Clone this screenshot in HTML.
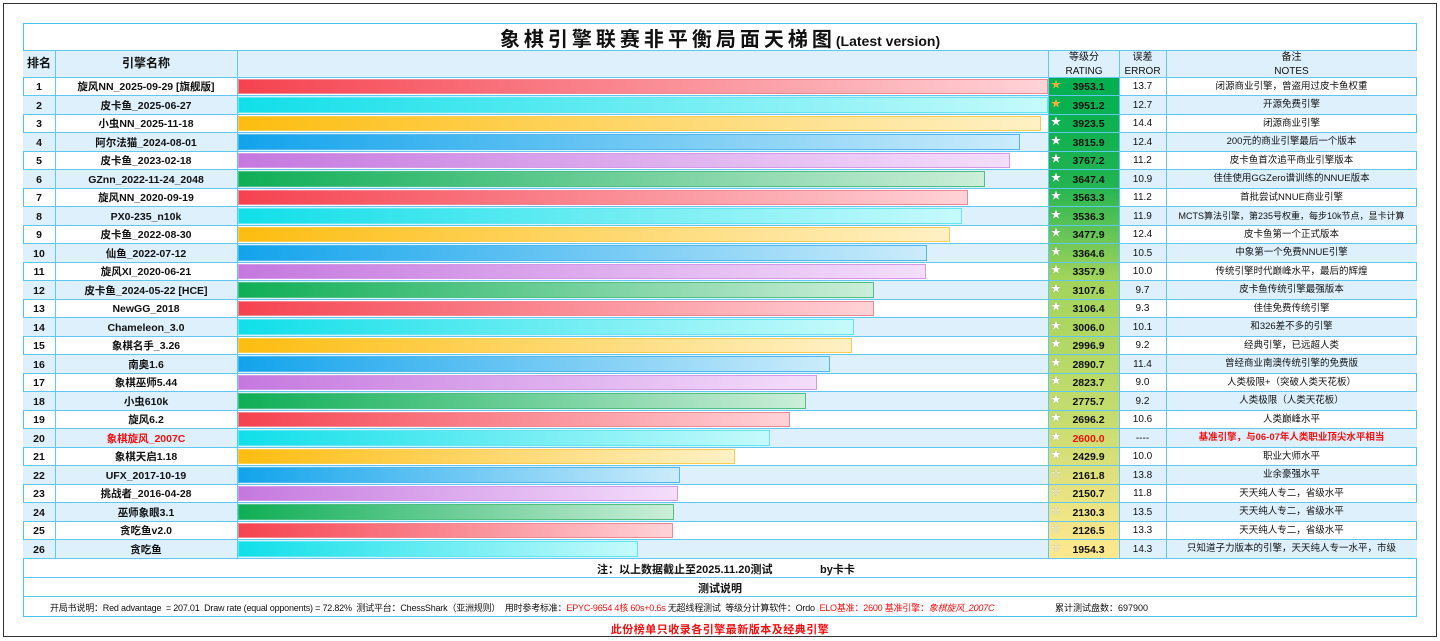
<!DOCTYPE html>
<html><head><meta charset="utf-8"><style>
*{margin:0;padding:0;box-sizing:border-box}
body{width:1440px;height:641px;background:#fff;position:relative;overflow:hidden;font-family:"Liberation Sans","Noto Sans CJK SC",sans-serif;color:#111}
.abs{position:absolute}
#outer{left:3px;top:3px;width:1434px;height:634px;border:1.5px solid #333}
.r{position:absolute;left:23px;width:1394px;height:18.5px}
.r.e{background:#ddf0fc}
.c{position:absolute;top:1px;height:18.5px;line-height:18.5px;text-align:center;white-space:nowrap;z-index:2}
.rk{left:0;width:32px;font-size:10.5px;font-weight:bold}
.nm{left:32px;width:182px;font-size:10.5px;font-weight:bold}
.rt{left:1026px;width:71px;font-size:10.5px;font-weight:bold;padding-left:8px}
.er{left:1096px;width:47px;font-size:10px;top:1px}
.nt{left:1143px;width:251px;font-size:9.5px;top:0.5px}
.st{position:absolute;left:2px;top:-1px;font-size:10px;color:#fff;text-shadow:0 0 1px #888}
.st.g{color:#f0b040;text-shadow:none}
.b{position:absolute;left:215px;top:1.5px;height:15.5px;z-index:1}
.k0{background:linear-gradient(to right,#f5424f,#ffd3d8);border:1px solid #f08a92}
.k1{background:linear-gradient(to right,#10dfe9,#c6fafc);border:1px solid #60e8f0}
.k2{background:linear-gradient(to right,#fdbd10,#fff1c6);border:1px solid #fccc50}
.k3{background:linear-gradient(to right,#12a3ec,#cbecfb);border:1px solid #50b8ee}
.k4{background:linear-gradient(to right,#c578df,#f4defb);border:1px solid #d59ae6}
.k5{background:linear-gradient(to right,#0fae56,#cbeed9);border:1px solid #50c080}
.hl{position:absolute;left:23px;width:1394px;height:1px;background:#5ec8f0;z-index:3}
.vl{position:absolute;top:50px;width:1px;height:508px;background:#5ec8f0;z-index:3}
.red{color:#f01010}
</style></head><body>
<div id="outer" class="abs"></div>
<div class="abs" style="left:23px;top:23px;width:1394px;height:594px;border:1px solid #4ec2ef"></div>
<div class="abs" style="left:23px;top:27px;width:1394px;height:26px;line-height:26px;text-align:center;font-size:20px;font-weight:bold;letter-spacing:4px">象棋引擎联赛非平衡局面天梯图<span style="font-size:14px;letter-spacing:0">(Latest version)</span></div>
<div class="abs" style="left:23px;top:50px;width:1394px;height:27px;background:#ddf0fc"></div>
<div class="abs" style="left:23px;top:50px;width:32px;line-height:27px;text-align:center;font-size:12px;font-weight:bold">排名</div>
<div class="abs" style="left:55px;top:50px;width:182px;line-height:27px;text-align:center;font-size:12px;font-weight:bold">引擎名称</div>
<div class="abs" style="left:1049px;top:51px;width:70px;text-align:center;font-size:10px;line-height:13.5px">等级分<br>RATING</div>
<div class="abs" style="left:1119px;top:51px;width:47px;text-align:center;font-size:10px;line-height:13.5px">误差<br>ERROR</div>
<div class="abs" style="left:1166px;top:51px;width:251px;text-align:center;font-size:10px;line-height:13.5px">备注<br>NOTES</div>
<div class="abs" style="left:1049px;top:77px;width:70px;height:481px;z-index:1;background:linear-gradient(to bottom,#00b050 0%,#20b450 22%,#a2d45a 42%,#c4dc6e 70%,#e4e27e 85%,#ffe88e 100%)"></div>

<div class="r" style="top:77px"><span class="c rk">1</span><span class="c nm">旋风NN_2025-09-29 [旗舰版]</span><div class="b k0" style="width:810px"></div><span class="c rt"><span class="st g">★</span>3953.1</span><span class="c er">13.7</span><span class="c nt">闭源商业引擎，曾盗用过皮卡鱼权重</span></div>
<div class="r e" style="top:95.5px"><span class="c rk">2</span><span class="c nm">皮卡鱼_2025-06-27</span><div class="b k1" style="width:810px"></div><span class="c rt"><span class="st g">★</span>3951.2</span><span class="c er">12.7</span><span class="c nt">开源免费引擎</span></div>
<div class="r" style="top:114px"><span class="c rk">3</span><span class="c nm">小虫NN_2025-11-18</span><div class="b k2" style="width:803px"></div><span class="c rt"><span class="st">★</span>3923.5</span><span class="c er">14.4</span><span class="c nt">闭源商业引擎</span></div>
<div class="r e" style="top:132.5px"><span class="c rk">4</span><span class="c nm">阿尔法猫_2024-08-01</span><div class="b k3" style="width:782px"></div><span class="c rt"><span class="st">★</span>3815.9</span><span class="c er">12.4</span><span class="c nt">200元的商业引擎最后一个版本</span></div>
<div class="r" style="top:151px"><span class="c rk">5</span><span class="c nm">皮卡鱼_2023-02-18</span><div class="b k4" style="width:772px"></div><span class="c rt"><span class="st">★</span>3767.2</span><span class="c er">11.2</span><span class="c nt">皮卡鱼首次追平商业引擎版本</span></div>
<div class="r e" style="top:169.5px"><span class="c rk">6</span><span class="c nm">GZnn_2022-11-24_2048</span><div class="b k5" style="width:747px"></div><span class="c rt"><span class="st">★</span>3647.4</span><span class="c er">10.9</span><span class="c nt">佳佳使用GGZero谱训练的NNUE版本</span></div>
<div class="r" style="top:188px"><span class="c rk">7</span><span class="c nm">旋风NN_2020-09-19</span><div class="b k0" style="width:730px"></div><span class="c rt"><span class="st">★</span>3563.3</span><span class="c er">11.2</span><span class="c nt">首批尝试NNUE商业引擎</span></div>
<div class="r e" style="top:206.5px"><span class="c rk">8</span><span class="c nm">PX0-235_n10k</span><div class="b k1" style="width:724px"></div><span class="c rt"><span class="st">★</span>3536.3</span><span class="c er">11.9</span><span class="c nt" style="font-size:9px">MCTS算法引擎，第235号权重，每步10k节点，显卡计算</span></div>
<div class="r" style="top:225px"><span class="c rk">9</span><span class="c nm">皮卡鱼_2022-08-30</span><div class="b k2" style="width:712px"></div><span class="c rt"><span class="st">★</span>3477.9</span><span class="c er">12.4</span><span class="c nt">皮卡鱼第一个正式版本</span></div>
<div class="r e" style="top:243.5px"><span class="c rk">10</span><span class="c nm">仙鱼_2022-07-12</span><div class="b k3" style="width:689px"></div><span class="c rt"><span class="st">★</span>3364.6</span><span class="c er">10.5</span><span class="c nt">中象第一个免费NNUE引擎</span></div>
<div class="r" style="top:262px"><span class="c rk">11</span><span class="c nm">旋风XI_2020-06-21</span><div class="b k4" style="width:688px"></div><span class="c rt"><span class="st">★</span>3357.9</span><span class="c er">10.0</span><span class="c nt">传统引擎时代巅峰水平，最后的辉煌</span></div>
<div class="r e" style="top:280.5px"><span class="c rk">12</span><span class="c nm">皮卡鱼_2024-05-22 [HCE]</span><div class="b k5" style="width:636px"></div><span class="c rt"><span class="st">★</span>3107.6</span><span class="c er">9.7</span><span class="c nt">皮卡鱼传统引擎最强版本</span></div>
<div class="r" style="top:299px"><span class="c rk">13</span><span class="c nm">NewGG_2018</span><div class="b k0" style="width:636px"></div><span class="c rt"><span class="st">★</span>3106.4</span><span class="c er">9.3</span><span class="c nt">佳佳免费传统引擎</span></div>
<div class="r e" style="top:317.5px"><span class="c rk">14</span><span class="c nm">Chameleon_3.0</span><div class="b k1" style="width:616px"></div><span class="c rt"><span class="st">★</span>3006.0</span><span class="c er">10.1</span><span class="c nt">和326差不多的引擎</span></div>
<div class="r" style="top:336px"><span class="c rk">15</span><span class="c nm">象棋名手_3.26</span><div class="b k2" style="width:614px"></div><span class="c rt"><span class="st">★</span>2996.9</span><span class="c er">9.2</span><span class="c nt">经典引擎，已远超人类</span></div>
<div class="r e" style="top:354.5px"><span class="c rk">16</span><span class="c nm">南奥1.6</span><div class="b k3" style="width:592px"></div><span class="c rt"><span class="st">★</span>2890.7</span><span class="c er">11.4</span><span class="c nt">曾经商业南澳传统引擎的免费版</span></div>
<div class="r" style="top:373px"><span class="c rk">17</span><span class="c nm">象棋巫师5.44</span><div class="b k4" style="width:579px"></div><span class="c rt"><span class="st">★</span>2823.7</span><span class="c er">9.0</span><span class="c nt">人类极限+（突破人类天花板）</span></div>
<div class="r e" style="top:391.5px"><span class="c rk">18</span><span class="c nm">小虫610k</span><div class="b k5" style="width:568px"></div><span class="c rt"><span class="st">★</span>2775.7</span><span class="c er">9.2</span><span class="c nt">人类极限（人类天花板）</span></div>
<div class="r" style="top:410px"><span class="c rk">19</span><span class="c nm">旋风6.2</span><div class="b k0" style="width:552px"></div><span class="c rt"><span class="st">★</span>2696.2</span><span class="c er">10.6</span><span class="c nt">人类巅峰水平</span></div>
<div class="r e" style="top:428.5px"><span class="c rk">20</span><span class="c nm red">象棋旋风_2007C</span><div class="b k1" style="width:532px"></div><span class="c rt red"><span class="st">★</span>2600.0</span><span class="c er">----</span><span class="c nt red" style="font-weight:bold">基准引擎，与06-07年人类职业顶尖水平相当</span></div>
<div class="r" style="top:447px"><span class="c rk">21</span><span class="c nm">象棋天启1.18</span><div class="b k2" style="width:497px"></div><span class="c rt"><span class="st">★</span>2429.9</span><span class="c er">10.0</span><span class="c nt">职业大师水平</span></div>
<div class="r e" style="top:465.5px"><span class="c rk">22</span><span class="c nm">UFX_2017-10-19</span><div class="b k3" style="width:442px"></div><span class="c rt"><span class="st">☆</span>2161.8</span><span class="c er">13.8</span><span class="c nt">业余豪强水平</span></div>
<div class="r" style="top:484px"><span class="c rk">23</span><span class="c nm">挑战者_2016-04-28</span><div class="b k4" style="width:440px"></div><span class="c rt"><span class="st">☆</span>2150.7</span><span class="c er">11.8</span><span class="c nt">天天纯人专二，省级水平</span></div>
<div class="r e" style="top:502.5px"><span class="c rk">24</span><span class="c nm">巫师象眼3.1</span><div class="b k5" style="width:436px"></div><span class="c rt"><span class="st">☆</span>2130.3</span><span class="c er">13.5</span><span class="c nt">天天纯人专二，省级水平</span></div>
<div class="r" style="top:521px"><span class="c rk">25</span><span class="c nm">贪吃鱼v2.0</span><div class="b k0" style="width:435px"></div><span class="c rt"><span class="st">☆</span>2126.5</span><span class="c er">13.3</span><span class="c nt">天天纯人专二，省级水平</span></div>
<div class="r e" style="top:539.5px"><span class="c rk">26</span><span class="c nm">贪吃鱼</span><div class="b k1" style="width:400px"></div><span class="c rt"><span class="st">☆</span>1954.3</span><span class="c er">14.3</span><span class="c nt">只知道子力版本的引擎，天天纯人专一水平，市级</span></div>

<div class="hl" style="top:50px"></div><div class="hl" style="top:77px"></div>
<div class="hl" style="top:95px"></div><div class="hl" style="top:114px"></div><div class="hl" style="top:132px"></div><div class="hl" style="top:151px"></div><div class="hl" style="top:169px"></div><div class="hl" style="top:188px"></div><div class="hl" style="top:206px"></div><div class="hl" style="top:225px"></div><div class="hl" style="top:243px"></div><div class="hl" style="top:262px"></div><div class="hl" style="top:280px"></div><div class="hl" style="top:299px"></div><div class="hl" style="top:317px"></div><div class="hl" style="top:336px"></div><div class="hl" style="top:354px"></div><div class="hl" style="top:373px"></div><div class="hl" style="top:391px"></div><div class="hl" style="top:410px"></div><div class="hl" style="top:428px"></div><div class="hl" style="top:447px"></div><div class="hl" style="top:465px"></div><div class="hl" style="top:484px"></div><div class="hl" style="top:502px"></div><div class="hl" style="top:521px"></div><div class="hl" style="top:539px"></div><div class="hl" style="top:558px"></div><div class="hl" style="top:577px"></div><div class="hl" style="top:596px"></div>
<div class="vl" style="left:55px"></div><div class="vl" style="left:237px"></div><div class="vl" style="left:1048px"></div><div class="vl" style="left:1119px"></div><div class="vl" style="left:1166px"></div>

<div class="abs" style="left:597px;top:561px;font-size:11px;font-weight:bold">注：以上数据截止至2025.11.20测试</div>
<div class="abs" style="left:820px;top:561px;font-size:11px;font-weight:bold">by卡卡</div>
<div class="abs" style="left:23px;top:580px;width:1394px;text-align:center;font-size:11px;font-weight:bold">测试说明</div>
<div class="abs" style="left:50px;top:601px;font-size:9px;white-space:nowrap;letter-spacing:-0.2px">开局书说明：Red advantage&nbsp; = 207.01&nbsp; Draw rate (equal opponents) = 72.82%&nbsp; 测试平台：ChessShark（亚洲规则）&nbsp; 用时参考标准：<span class="red">EPYC-9654 4核 60s+0.6s</span> 无超线程测试&nbsp; 等级分计算软件：Ordo&nbsp; <span class="red">ELO基准：2600 基准引擎：<i>象棋旋风_2007C</i></span></div>
<div class="abs" style="left:1055px;top:601px;font-size:9px">累计测试盘数：697900</div>
<div class="abs red" style="left:0;top:621px;width:1440px;text-align:center;font-size:11px;font-weight:bold;letter-spacing:0.5px">此份榜单只收录各引擎最新版本及经典引擎</div>
</body></html>
